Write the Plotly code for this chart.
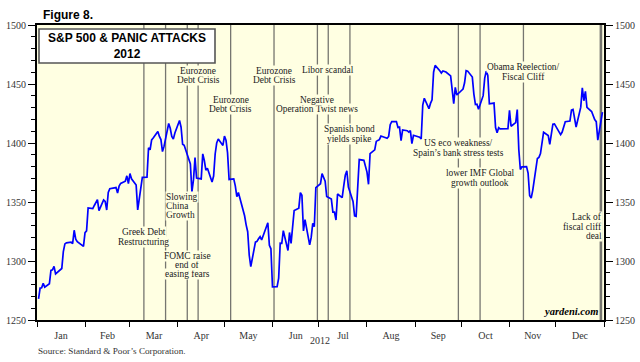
import plotly.graph_objects as go

# ---------------- data (S&P 500 daily close, 2012) ----------------
jan_days = [2, 3, 4, 5, 6, 9, 10, 11, 12, 13, 17, 18, 19, 20, 23, 24, 25, 26, 27, 30, 31]
jan_close = [1268, 1277.06, 1277.30, 1281.06, 1277.81, 1280.70, 1292.08, 1292.48, 1295.50, 1289.09,
             1293.67, 1308.04, 1314.50, 1315.38, 1316.00, 1314.65, 1326.06, 1318.43, 1316.33, 1313.01, 1312.41]
feb_days = [1, 2, 3, 6, 7, 8, 9, 10, 13, 14, 15, 16, 17, 21, 22, 23, 24, 27, 28, 29]
feb_close = [1324.09, 1325.54, 1344.90, 1344.33, 1347.05, 1349.96, 1351.95, 1342.64, 1351.77, 1350.50,
             1343.23, 1358.04, 1361.23, 1362.21, 1357.66, 1363.46, 1365.74, 1367.59, 1372.18, 1365.68]
mar_days = [1, 2, 5, 6, 7, 8, 9, 12, 13, 14, 15, 16, 19, 20, 21, 22, 23, 26, 27, 28, 29, 30]
mar_close = [1374.09, 1369.63, 1364.33, 1343.36, 1352.63, 1365.91, 1370.87, 1371.09, 1395.95, 1394.28, 1402.60,
             1404.17, 1409.75, 1405.52, 1402.89, 1392.78, 1397.11, 1416.51, 1412.52, 1405.54, 1403.28, 1408.47]
apr_days = [2, 3, 4, 5, 9, 10, 11, 12, 13, 16, 17, 18, 19, 20, 23, 24, 25, 26, 27, 30]
apr_close = [1419.04, 1413.38, 1398.96, 1398.08, 1382.20, 1358.59, 1368.71, 1387.57, 1370.26, 1369.57,
             1390.78, 1385.14, 1376.92, 1378.53, 1366.94, 1371.97, 1390.69, 1399.98, 1403.36, 1397.91]
may_days = [1, 2, 3, 4, 7, 8, 9, 10, 11, 14, 15, 16, 17, 18, 21, 22, 23, 24, 25, 29, 30, 31]
may_close = [1405.82, 1402.31, 1391.57, 1369.10, 1369.58, 1363.72, 1354.58, 1357.99, 1353.39, 1338.35, 1330.66,
             1324.80, 1304.86, 1295.22, 1315.99, 1316.63, 1318.86, 1320.68, 1317.82, 1332.42, 1313.32, 1310.33]
jun_days = [1, 4, 5, 6, 7, 8, 11, 12, 13, 14, 15, 18, 19, 20, 21, 22, 25, 26, 27, 28, 29]
jun_close = [1278.04, 1278.18, 1285.50, 1315.13, 1314.99, 1325.66, 1308.93, 1324.18, 1314.88, 1329.10, 1342.84,
             1344.78, 1357.98, 1355.69, 1325.51, 1335.02, 1313.72, 1319.99, 1331.85, 1329.04, 1362.16]
jul_days = [2, 3, 5, 6, 9, 10, 11, 12, 13, 16, 17, 18, 19, 20, 23, 24, 25, 26, 27, 30, 31]
jul_close = [1365.51, 1374.02, 1367.58, 1354.68, 1352.46, 1341.47, 1341.45, 1334.76, 1356.78, 1353.64, 1363.67,
             1372.78, 1376.51, 1362.66, 1350.52, 1338.31, 1337.89, 1360.02, 1385.97, 1385.30, 1379.32]
aug_days = [1, 2, 3, 6, 7, 8, 9, 10, 13, 14, 15, 16, 17, 20, 21, 22, 23, 24, 27, 28, 29, 30, 31]
aug_close = [1375.32, 1365.00, 1390.99, 1394.23, 1401.35, 1402.22, 1402.80, 1405.87, 1404.11, 1403.93, 1405.53,
             1415.51, 1418.16, 1418.13, 1413.17, 1413.49, 1402.08, 1411.13, 1410.44, 1409.30, 1410.49, 1399.48, 1406.58]
sep_days = [4, 5, 6, 7, 10, 11, 12, 13, 14, 17, 18, 19, 20, 21, 24, 25, 26, 27, 28]
sep_close = [1404.94, 1403.44, 1432.12, 1437.92, 1429.08, 1433.56, 1436.56, 1459.99, 1465.77, 1461.19,
             1459.32, 1461.05, 1460.26, 1460.15, 1456.89, 1441.59, 1433.32, 1447.15, 1440.67]
oct_days = [1, 2, 3, 4, 5, 8, 9, 10, 11, 12, 15, 16, 17, 18, 19, 22, 23, 24, 25, 26, 31]
oct_close = [1444.49, 1445.75, 1450.99, 1461.40, 1460.93, 1455.88, 1441.48, 1432.56, 1432.84, 1428.59, 1440.13,
             1454.92, 1460.91, 1457.34, 1433.19, 1433.82, 1413.11, 1408.75, 1412.97, 1411.94, 1412.16]
nov_days = [1, 2, 5, 6, 7, 8, 9, 12, 13, 14, 15, 16, 19, 20, 21, 23, 26, 27, 28, 29, 30]
nov_close = [1427.59, 1414.20, 1417.26, 1428.39, 1394.53, 1377.51, 1379.85, 1380.03, 1374.53, 1355.49, 1353.33,
             1359.88, 1386.89, 1387.81, 1391.03, 1409.15, 1406.29, 1398.94, 1409.93, 1415.95, 1416.18]
dec_days = [3, 4, 5, 6, 7, 10, 11, 12, 13, 14, 17, 18, 19, 20, 21, 24, 26, 27, 28, 31]
dec_close = [1409.46, 1407.05, 1409.28, 1413.94, 1418.07, 1418.55, 1427.84, 1428.48, 1419.45, 1413.58,
             1430.36, 1446.79, 1435.81, 1443.69, 1430.15, 1426.66, 1419.83, 1418.10, 1402.43, 1426.19]

event_dates = ["2012-03-10", "2012-03-24", "2012-04-07", "2012-04-14", "2012-05-05", "2012-06-02",
               "2012-06-30", "2012-07-07", "2012-07-21", "2012-09-29", "2012-10-13", "2012-11-10", "2012-12-30"]
event_labels = [["Greek Debt", "Restructuring"],
                ["Slowing", "China", "Growth"],
                ["FOMC raise", "end of", "easing fears"],
                ["Eurozone", "Debt Crisis"],
                ["Eurozone", "Debt Crisis"],
                ["Eurozone", "Debt Crisis"],
                ["Negative", "Operation Twist news"],
                ["Libor scandal"],
                ["Spanish bond", "yields spike"],
                ["US eco weakness/", "Spain\u2019s bank stress tests"],
                ["lower IMF Global", "growth outlook"],
                ["Obama Reelection/", "Fiscal Cliff"],
                ["Lack of", "fiscal cliff", "deal"]]

title_lines = ["S&P 500 & PANIC ATTACKS", "2012"]
figure_label = "Figure 8."
source_text = "Source: Standard & Poor\u2019s Corporation."
credit_text = "yardeni.com"
x_title = "2012"

months = [(1, jan_days, jan_close), (2, feb_days, feb_close), (3, mar_days, mar_close),
          (4, apr_days, apr_close), (5, may_days, may_close), (6, jun_days, jun_close),
          (7, jul_days, jul_close), (8, aug_days, aug_close), (9, sep_days, sep_close),
          (10, oct_days, oct_close), (11, nov_days, nov_close), (12, dec_days, dec_close)]
dates, closes = [], []
for m, ds, cs in months:
    for d, c in zip(ds, cs):
        dates.append(f"2012-{m:02d}-{d:02d}")
        closes.append(c)

# ---------------- style / layout ----------------
W, H = 640, 362
L, R, T, B = 37, 36, 25, 42
PH = H - T - B
PW = W - L - R
BG = "#FFFFE2"
SERIF = "Liberation Serif"
SANS = "Liberation Sans"


def py(px):  # pixel y (from top) -> paper y
    return (H - B - px) / PH


def pxx(px):  # pixel x -> paper x
    return (px - L) / PW


fig = go.Figure()
fig.add_trace(go.Scatter(x=dates, y=closes, mode="lines",
                         line=dict(color="#0000FF", width=1.7), hoverinfo="skip"))
fig.add_trace(go.Scatter(x=dates, y=closes, mode="lines", yaxis="y2",
                         line=dict(color="rgba(0,0,0,0)", width=0), hoverinfo="skip"))

# event lines
for i, d in enumerate(event_dates):
    fig.add_shape(type="line", xref="x", yref="paper", x0=d, x1=d, y0=0, y1=1,
                  line=dict(color="#767670", width=2.6 if i == len(event_dates) - 1 else 1.3),
                  layer="below")

# label placement (style): y centres in px, anchor, xshift
label_style = [
    ([232, 242], "center", 0),
    ([197, 206, 215], "left", -1),
    ([256, 265, 274], "center", 0),
    ([71, 80], "center", 0),
    ([100, 109], "center", 0),
    ([71, 80], "center", 0),
    ([100, 109], "center", 0),
    ([70], "center", 0),
    ([129, 139], "center", 0),
    ([143, 153], "center", 0),
    ([173, 183], "center", 0),
    ([67, 77], "center", 0),
    ([217, 227, 236], "right", 2),
]
for d, lines, (ys, anc, xs) in zip(event_dates, event_labels, label_style):
    for txt, ypx in reversed(list(zip(lines, ys))):
        fig.add_annotation(x=d, xref="x", y=py(ypx), yref="paper", text=txt, showarrow=False,
                           xanchor=anc, yanchor="middle", xshift=xs,
                           font=dict(family=SERIF, size=9.4, color="#222222"),
                           bgcolor=BG, borderpad=0)

# title box
fig.add_shape(type="rect", xref="paper", yref="paper", x0=pxx(39), x1=pxx(215), y0=py(63), y1=py(29),
              fillcolor="white", line=dict(color="#555555", width=1.6), layer="above")
fig.add_annotation(x=pxx(127), y=py(46.5), xref="paper", yref="paper",
                   text="<br>".join("<b>" + t + "</b>" for t in title_lines),
                   showarrow=False, xanchor="center", yanchor="middle", align="center",
                   font=dict(family=SANS, size=12, color="black"))

fig.add_annotation(x=pxx(41), y=py(15), xref="paper", yref="paper", text="<b>" + figure_label + "</b>",
                   showarrow=False, xanchor="left", yanchor="middle",
                   font=dict(family=SANS, size=12, color="black"))
fig.add_annotation(x=pxx(600), y=py(311), xref="paper", yref="paper",
                   text="<b><i>" + credit_text + "</i></b>", showarrow=False, xanchor="right",
                   yanchor="middle", font=dict(family=SERIF, size=10.5, color="black"))
fig.add_annotation(x=pxx(320), y=py(340), xref="paper", yref="paper", text=x_title, showarrow=False,
                   xanchor="center", yanchor="middle", font=dict(family=SERIF, size=10, color="#333333"))
fig.add_annotation(x=pxx(36), y=py(351), xref="paper", yref="paper", text=source_text, showarrow=False,
                   xanchor="left", yanchor="middle", font=dict(family=SERIF, size=9.2, color="#333333"))

yaxis_common = dict(range=[1250, 1500], dtick=50, tick0=1250, ticks="outside", ticklen=7, tickwidth=1,
                    tickcolor="black", showline=True, linecolor="black", linewidth=2, showgrid=False,
                    zeroline=False, automargin=False,
                    tickfont=dict(family=SERIF, size=10, color="#333333"),
                    minor=dict(dtick=10, tick0=1250, ticks="outside", ticklen=4, tickcolor="black",
                               showgrid=False))

fig.update_layout(
    width=W, height=H, margin=dict(l=L, r=R, t=T, b=B, autoexpand=False),
    paper_bgcolor="white", plot_bgcolor=BG, showlegend=False,
    xaxis=dict(type="date", range=["2012-01-01", "2013-01-01"], dtick="M1", tick0="2012-01-01",
               tickformat="%b", ticklabelmode="period", ticks="outside", ticklen=5, tickwidth=1,
               tickcolor="black", showline=True, linecolor="black", linewidth=2, mirror=True,
               showgrid=False, zeroline=False, automargin=False,
               tickfont=dict(family=SERIF, size=10, color="#333333")),
    yaxis=dict(side="left", **yaxis_common),
    yaxis2=dict(side="right", overlaying="y", anchor="x", **yaxis_common),
)

fig.write_html("out.html", config={"displayModeBar": False},
               post_script="document.body.style.margin='0';document.body.style.overflow='hidden';")
